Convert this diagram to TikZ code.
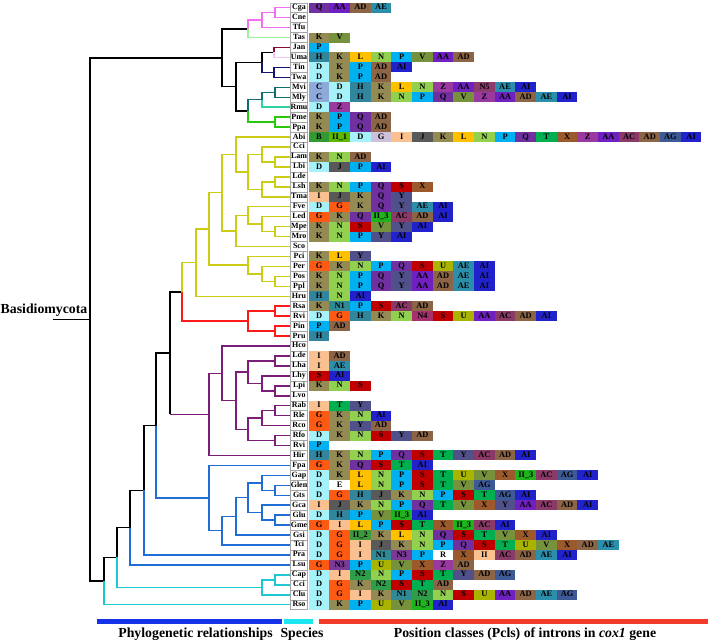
\documentclass[tikz,border=0pt]{standalone}
\usepackage{fontspec}
\setmainfont{Liberation Serif}
\usepackage{tikz}
% tree colours
\definecolor{TreePink}{HTML}{F46EF0}
\definecolor{TreeMint}{HTML}{99F099}
\definecolor{TreeMaroon}{HTML}{8B0A3A}
\definecolor{TreeRose}{HTML}{F8C4F4}
\definecolor{TreeNavy}{HTML}{141470}
\definecolor{TreeTeal}{HTML}{0E6E6E}
\definecolor{TreeAqua}{HTML}{2ED3A4}
\definecolor{TreeGreen}{HTML}{28C80A}
\definecolor{TreeYellow}{HTML}{CCCC14}
\definecolor{TreeRed}{HTML}{FF1A1A}
\definecolor{TreePurple}{HTML}{7A1E7A}
\definecolor{TreeBlue}{HTML}{1E6ED6}
\definecolor{TreeCyan}{HTML}{1EC8D2}
\definecolor{BarBlue}{HTML}{1432E6}
\definecolor{BarCyan}{HTML}{1EE6F0}
\definecolor{BarRed}{HTML}{F03C28}
% position classes
\definecolor{pclB}{HTML}{339933}
\definecolor{pclC}{HTML}{8EAADB}
\definecolor{pclD}{HTML}{A6F2FA}
\definecolor{pclE}{HTML}{FFFFFF}
\definecolor{pclG}{HTML}{FF5A14}
\definecolor{pclGx}{HTML}{CCC0DA}
\definecolor{pclH}{HTML}{31859C}
\definecolor{pclI}{HTML}{FAC090}
\definecolor{pclII}{HTML}{FAC090}
\definecolor{pclII1}{HTML}{5CB800}
\definecolor{pclII2}{HTML}{3B9A3B}
\definecolor{pclII3}{HTML}{1DB41D}
\definecolor{pclJ}{HTML}{595959}
\definecolor{pclK}{HTML}{948A54}
\definecolor{pclL}{HTML}{FFC000}
\definecolor{pclN}{HTML}{92D050}
\definecolor{pclN1}{HTML}{2F8A96}
\definecolor{pclN2}{HTML}{2E9E48}
\definecolor{pclN3}{HTML}{7A3A96}
\definecolor{pclN4}{HTML}{A6306E}
\definecolor{pclN5}{HTML}{8E3B6E}
\definecolor{pclP}{HTML}{00B0F0}
\definecolor{pclQ}{HTML}{7030A0}
\definecolor{pclR}{HTML}{FFFFFF}
\definecolor{pclS}{HTML}{C00000}
\definecolor{pclT}{HTML}{00B050}
\definecolor{pclU}{HTML}{A8B400}
\definecolor{pclV}{HTML}{76923C}
\definecolor{pclX}{HTML}{9C5A2C}
\definecolor{pclY}{HTML}{50508A}
\definecolor{pclZ}{HTML}{9A3AA0}
\definecolor{pclAA}{HTML}{7020C0}
\definecolor{pclAC}{HTML}{8B3A68}
\definecolor{pclAD}{HTML}{8C6446}
\definecolor{pclAE}{HTML}{2B8FAB}
\definecolor{pclAG}{HTML}{3D5A96}
\definecolor{pclAI}{HTML}{2222CC}
\newcommand\pcltext[1]{\ifcsname pt#1\endcsname\csname pt#1\endcsname\else#1\fi}
\expandafter\def\csname ptII1\endcsname{II\_1}
\expandafter\def\csname ptII2\endcsname{II\_2}
\expandafter\def\csname ptII3\endcsname{II\_3}
\expandafter\def\csname ptGx\endcsname{G}

\begin{document}
\begin{tikzpicture}[x=1pt, y=-1pt, every node/.style={inner sep=0pt}]
  \tikzstyle{taxon}=[draw=gray!70, fill=white, line width=0.4pt, minimum width=16.8pt,
  minimum height=9.95pt, text height=5.4pt, text depth=1.5pt, font=\bfseries\fontsize{8}{8}\selectfont]
  \tikzstyle{pcl}=[minimum width=20.67pt, minimum height=9.95pt, text height=5.8pt,
  text depth=1.6pt, font=\bfseries\fontsize{8.4}{9}\selectfont]
  \tikzstyle{branch}=[line width=1.5pt]
  \tikzstyle{bar}=[minimum height=5pt]
  \tikzstyle{legend}=[anchor=base, font=\bfseries\fontsize{13.8}{15}\selectfont]
  \useasboundingbox (0,0) rectangle (709,642);

  % species
  \foreach \i/\n in {1/Cga,2/Cne,3/Tfu,4/Tas,5/Jan,6/Uma,7/Tin,8/Twa,9/Mvi,10/Mly,11/Rmu,
    12/Pme,13/Ppa,14/Abi,15/Cci,16/Lam,17/Lbi,18/Lde,19/Lsh,20/Tma,21/Fve,22/Led,23/Mpe,
    24/Mro,25/Sco,26/Pci,27/Per,28/Pos,29/Ppl,30/Hru,31/Rsa,32/Rvi,33/Pin,34/Pru,35/Hco,
    36/Lde,37/Lha,38/Lhy,39/Lpi,40/Lvo,41/Rab,42/Rle,43/Rco,44/Rfo,45/Rvi,46/Hir,47/Fpa,
    48/Gap,49/Glen,50/Gts,51/Gca,52/Glu,53/Gme,54/Gsi,55/Tci,56/Pra,57/Lsu,58/Cap,59/Cci,
    60/Clu,61/Rso}
    \node[taxon] (s\i) at (299, {7.7+(\i-1)*9.95}) {\n};

  % intron position classes
  \foreach \i/\row in {1/{Q,AA,AD,AE}, 4/{K,V}, 5/{P}, 6/{H,K,L,N,P,V,AA,AD},
    7/{D,K,P,AD,AI}, 8/{D,K,P,AD}, 9/{C,D,H,K,L,N,Z,AA,N5,AE,AI},
    10/{C,D,H,K,N,P,Q,V,Z,AA,AD,AE,AI}, 11/{D,Z}, 12/{K,P,Q,AD}, 13/{K,P,Q,AD},
    14/{B,II1,D,Gx,I,J,K,L,N,P,Q,T,X,Z,AA,AC,AD,AG,AI}, 16/{K,N,AD}, 17/{D,J,P,AI},
    19/{K,N,P,Q,S,X}, 20/{I,J,K,Q,Y}, 21/{D,G,K,Q,Y,AE,AI}, 22/{G,K,Q,II3,AC,AD,AI},
    23/{K,N,S,V,Y,AI}, 24/{K,N,P,Y,AI}, 26/{K,L,Y}, 27/{G,K,N,P,Q,S,U,AE,AI},
    28/{K,N,P,Q,Y,AA,AD,AE,AI}, 29/{K,N,P,Q,Y,AA,AD,AE,AI}, 30/{H,N,AI},
    31/{K,N1,P,S,AC,AD}, 32/{D,G,H,K,N,N4,S,U,AA,AC,AD,AI}, 33/{P,AD}, 34/{H},
    36/{I,AD}, 37/{I,AE}, 38/{S,AI}, 39/{K,N,S}, 41/{I,T,Y}, 42/{G,K,N,AI},
    43/{G,K,Y,AD}, 44/{D,K,N,S,Y,AD}, 45/{P}, 46/{H,K,N,P,Q,S,T,Y,AC,AD,AI},
    47/{G,K,Q,S,T,AI}, 48/{D,K,L,N,P,S,T,U,V,X,II3,AC,AG,AI}, 49/{D,E,L,N,P,S,T,V,AG},
    50/{D,G,H,J,K,N,P,S,T,AG,AI}, 51/{I,J,K,N,P,Q,T,V,X,Y,AA,AC,AD,AI},
    52/{D,H,P,V,II3,AI}, 53/{G,I,L,P,S,T,X,II3,AC,AI}, 54/{D,G,II2,K,L,N,Q,S,T,V,X,AI},
    55/{D,G,I,J,K,N,P,Q,S,T,U,V,X,AD,AE}, 56/{D,G,I,N1,N3,P,R,X,II,AC,AD,AE,AI},
    57/{G,N3,P,U,V,X,Z,AD}, 58/{D,I,N2,N,P,S,T,Y,AD,AG}, 59/{D,G,K,N2,S,T,AD},
    60/{D,G,I,K,N1,N2,N,S,U,AA,AD,AE,AG}, 61/{D,K,P,U,V,II3,AI}}
    \foreach \c [count=\k] in \row
      \node[pcl, fill=pcl\c] (c\i-\k) at ({308.7+(\k-0.5)*20.67}, {7.7+(\i-1)*9.95}) {\pcltext{\c}};

  % tree nodes
  \coordinate (nStub) at (53,319.42);
  \coordinate (nRoot) at (90,319.42);
  \coordinate (nTop) at (222,57.76);
  \coordinate (nCC) at (275,12.68);
  \coordinate (nCT) at (262,20.14);
  \coordinate (nCTT) at (248,28.84);
  \coordinate (nJU) at (274,52.48);
  \coordinate (nTT) at (274,72.38);
  \coordinate (nJT) at (262,62.43);
  \coordinate (nMM) at (275,92.28);
  \coordinate (nMR) at (262,99.74);
  \coordinate (nPP) at (275,122.13);
  \coordinate (nMP) at (248,110.93);
  \coordinate (nUst) at (236,86.68);
  \coordinate (nLL) at (275,161.93);
  \coordinate (nCL) at (262,154.46);
  \coordinate (nLS) at (275,181.83);
  \coordinate (nLT) at (262,189.29);
  \coordinate (nAg) at (248,171.87);
  \coordinate (nAbi) at (236,154.46);
  \coordinate (nMpr) at (275,231.58);
  \coordinate (nLed) at (262,224.11);
  \coordinate (nFve) at (248,215.41);
  \coordinate (nSco) at (236,230.95);
  \coordinate (nAgar) at (222,192.71);
  \coordinate (nPpl) at (275,281.33);
  \coordinate (nPer) at (262,273.86);
  \coordinate (nPci) at (248,265.16);
  \coordinate (nY209) at (209,228.93);
  \coordinate (nYel) at (196,262.59);
  \coordinate (nRR) at (275,311.18);
  \coordinate (nPR) at (275,331.08);
  \coordinate (nRed) at (248,321.13);
  \coordinate (nYR) at (182,291.86);
  \coordinate (nLH) at (275,360.93);
  \coordinate (nLV) at (275,390.78);
  \coordinate (nLhy) at (262,383.31);
  \coordinate (nL248) at (248,372.12);
  \coordinate (nRA) at (275,410.68);
  \coordinate (nRC) at (262,418.14);
  \coordinate (nRF) at (275,440.53);
  \coordinate (nR248) at (248,429.33);
  \coordinate (nP236) at (236,400.72);
  \coordinate (nHco) at (222,373.36);
  \coordinate (nPur) at (209,414.41);
  \coordinate (nPurK) at (170,414.41);
  \coordinate (nYRP) at (170,353.13);
  \coordinate (nGG) at (275,490.28);
  \coordinate (nGap) at (262,482.81);
  \coordinate (nGM) at (275,520.13);
  \coordinate (nGca) at (262,512.66);
  \coordinate (nG248) at (248,497.74);
  \coordinate (nGsi) at (236,516.39);
  \coordinate (nTci) at (222,530.70);
  \coordinate (nBlue) at (209,498.05);
  \coordinate (n156) at (156,425.59);
  \coordinate (n144) at (144,490.27);
  \coordinate (n130) at (130,527.59);
  \coordinate (nCap) at (275,579.83);
  \coordinate (nClu) at (262,587.29);
  \coordinate (n117) at (117,557.44);
  \coordinate (n104) at (104,581.07);

  % branches
  \draw[branch] (nStub) -- (nRoot);
  \foreach \p/\c in {nRoot/nTop, nRoot/n104, nTop/nCTT, nTop/nUst, nUst/nJT, nUst/nMP,
    nJT/nJU, n104/n117, n117/n130, n130/n144, n144/n156, n156/nYRP, nYRP/nYR, nYRP/nPurK}
    \draw[branch] (\p) |- (\c);
  \foreach \p/\c in {nCTT/nCT, nCT/nCC, nCT/s3.west, nCC/s1.west, nCC/s2.west}
    \draw[branch, TreePink] (\p) |- (\c);
  \draw[branch, TreeMint] (nCTT) |- (s4.west);
  \draw[branch, TreeMaroon] (nJU) |- (s5.west);
  \draw[branch, TreeRose] (nJU) |- (s6.west);
  \foreach \p/\c in {nJT/nTT, nTT/s7.west, nTT/s8.west}
    \draw[branch, TreeNavy] (\p) |- (\c);
  \foreach \p/\c in {nMP/nMR, nMR/nMM, nMM/s9.west, nMM/s10.west}
    \draw[branch, TreeTeal] (\p) |- (\c);
  \draw[branch, TreeAqua] (nMR) |- (s11.west);
  \foreach \p/\c in {nMP/nPP, nPP/s12.west, nPP/s13.west}
    \draw[branch, TreeGreen] (\p) |- (\c);
  \foreach \p/\c in {nYR/nYel, nYel/nY209, nYel/s30.west, nY209/nAgar, nY209/nPci,
    nAgar/nAbi, nAgar/nSco, nAbi/s14.west, nAbi/nAg, nAg/nCL, nAg/nLT, nCL/s15.west,
    nCL/nLL, nLL/s16.west, nLL/s17.west, nLT/nLS, nLT/s20.west, nLS/s18.west,
    nLS/s19.west, nSco/nFve, nSco/s25.west, nFve/s21.west, nFve/nLed, nLed/s22.west,
    nLed/nMpr, nMpr/s23.west, nMpr/s24.west, nPci/s26.west, nPci/nPer, nPer/s27.west,
    nPer/nPpl, nPpl/s28.west, nPpl/s29.west}
    \draw[branch, TreeYellow] (\p) |- (\c);
  \foreach \p/\c in {nYR/nRed, nRed/nRR, nRed/nPR, nRR/s31.west, nRR/s32.west,
    nPR/s33.west, nPR/s34.west}
    \draw[branch, TreeRed] (\p) |- (\c);
  \foreach \p/\c in {nPurK/nPur, nPur/nHco, nPur/s46.west, nHco/s35.west, nHco/nP236,
    nP236/nL248, nP236/nR248, nL248/nLH, nL248/nLhy, nLH/s36.west, nLH/s37.west,
    nLhy/s38.west, nLhy/nLV, nLV/s39.west, nLV/s40.west, nR248/nRC, nR248/nRF,
    nRC/nRA, nRC/s43.west, nRA/s41.west, nRA/s42.west, nRF/s44.west, nRF/s45.west}
    \draw[branch, TreePurple] (\p) |- (\c);
  \foreach \p/\c in {n156/nBlue, n144/s56.west, n130/s57.west, nBlue/s47.west,
    nBlue/nTci, nTci/nGsi, nTci/s55.west, nGsi/nG248, nGsi/s54.west, nG248/nGap,
    nG248/nGca, nGap/s48.west, nGap/nGG, nGG/s49.west, nGG/s50.west, nGca/s51.west,
    nGca/nGM, nGM/s52.west, nGM/s53.west}
    \draw[branch, TreeBlue] (\p) |- (\c);
  \foreach \p/\c in {n117/nClu, n104/s61.west, nClu/nCap, nClu/s60.west,
    nCap/s58.west, nCap/s59.west}
    \draw[branch, TreeCyan] (\p) |- (\c);

  \node[anchor=base west, font=\bfseries\fontsize{13.8}{15}\selectfont] (basidio) at (0.5,313.5) {Basidiomycota};

  % legend
  \node[bar, fill=BarBlue, minimum width=184.5pt] (barphy) at (189.25,621) {};
  \node[bar, fill=BarCyan, minimum width=29pt] (barsp) at (298.5,621) {};
  \node[bar, fill=BarRed, minimum width=389pt] (barpcl) at (513.5,621) {};
  \node[legend] (txtphy) at (195.5,637.5) {Phylogenetic relationships};
  \node[legend] (txtsp) at (302,637.5) {Species};
  \node[legend] (txtpcl) at (525,637.5) {Position classes (Pcls) of introns in \textit{cox1} gene};
\end{tikzpicture}
\end{document}
